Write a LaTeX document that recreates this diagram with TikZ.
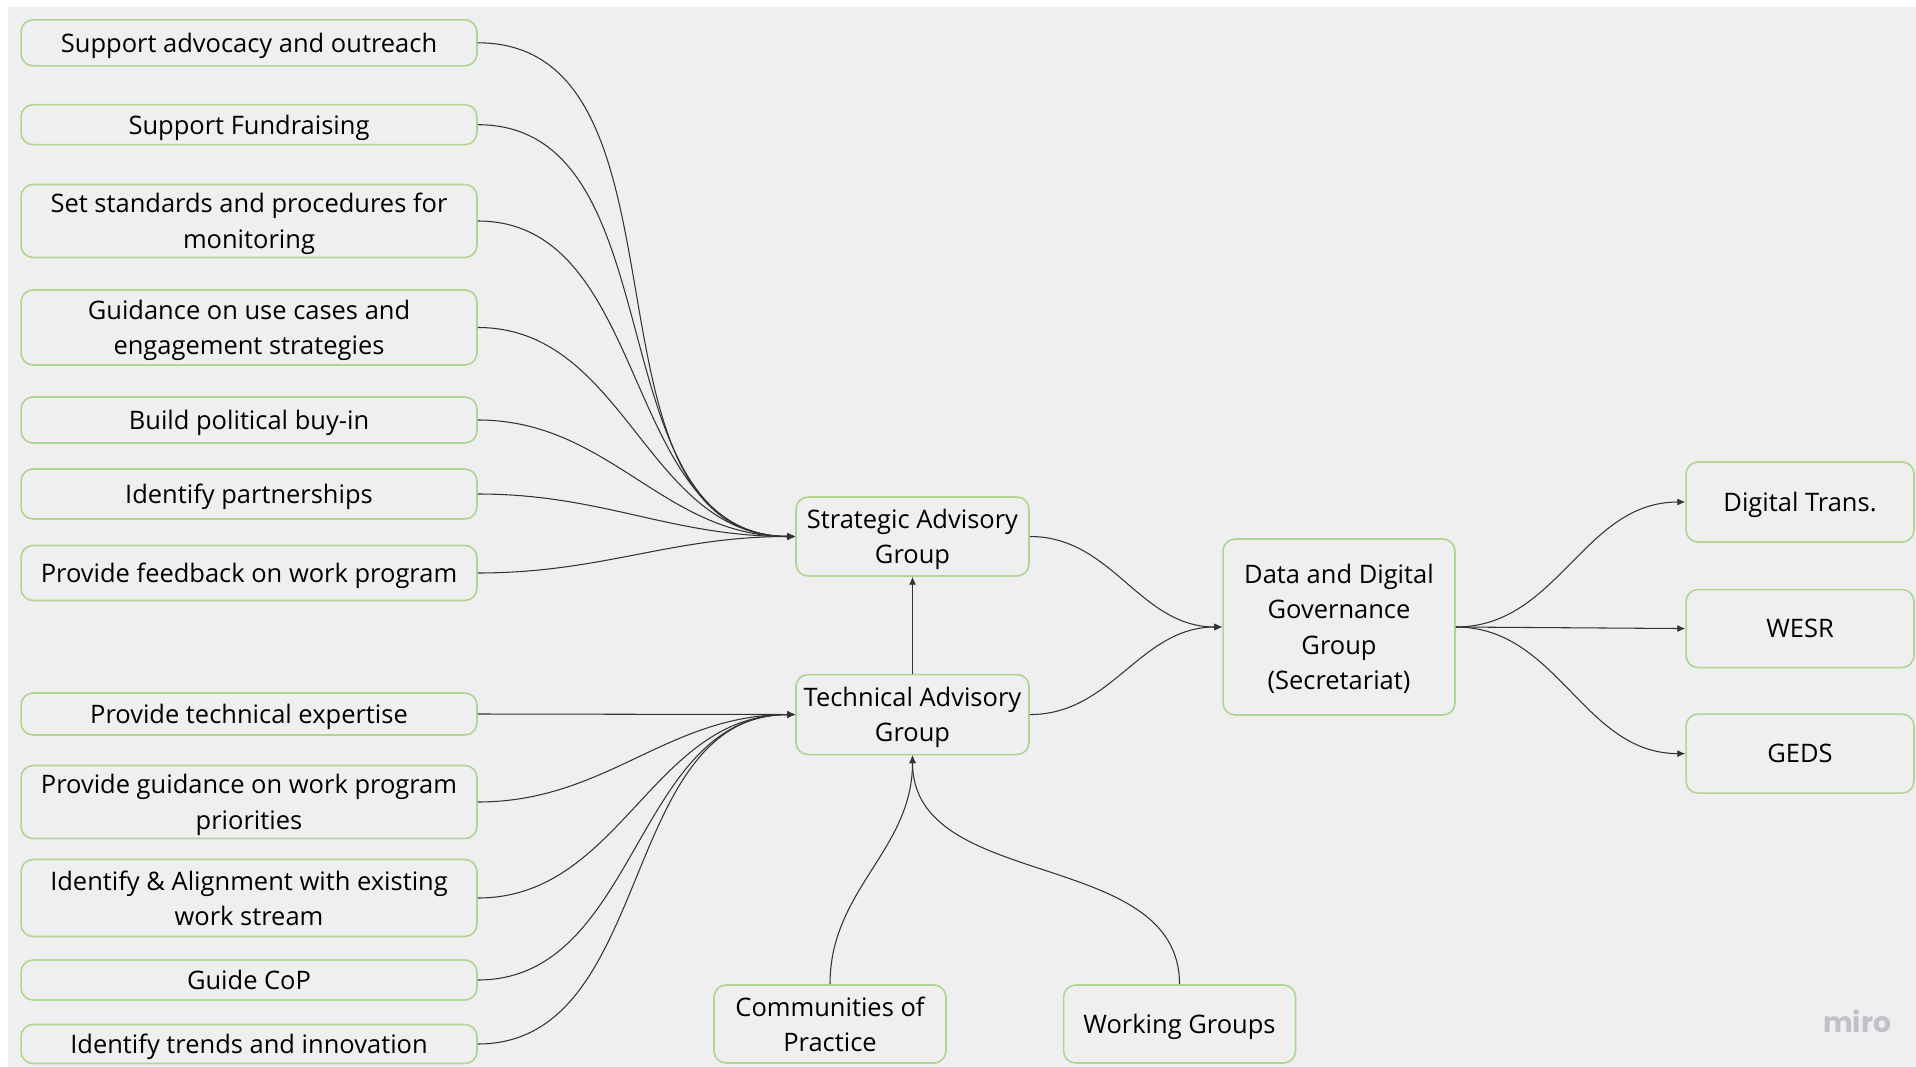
\documentclass[tikz,border=0pt]{standalone}
\usepackage{fontspec}
\setmainfont{Open Sans}
\newfontfamily\logofont{Poppins}
\usetikzlibrary{arrows.meta, positioning}
\usepackage{xcolor}
\definecolor{boardgrey}{RGB}{239,239,239}
\definecolor{boxgreen}{RGB}{176,212,146}
\definecolor{linkgrey}{RGB}{51,51,51}
\definecolor{logogrey}{RGB}{192,192,200}

\begin{document}
\begin{tikzpicture}[x=0.02cm, y=-0.02cm, >={Latex[length=4.5pt,width=4pt]},
  box/.style={rectangle, rounded corners=0.24cm, draw=boxgreen, line width=0.9pt, fill=boardgrey, minimum width=#1, align=center, inner sep=1pt, text depth=0pt, font=\fontsize{14.5}{20.2}\selectfont},
  box/.default=9.12cm,
  link/.style={->, draw=linkgrey, line width=0.6pt}]
  \useasboundingbox[fill=white] (0,0) rectangle (1916,1067);
  \fill[boardgrey] (8,7) rectangle (1916,1067);
  % strategic tasks
  \node[box, minimum height=0.92cm] (advocacy) at (249,42.8) {Support advocacy and outreach};
  \node[box, minimum height=0.80cm] (fundraising) at (249,124.7) {Support Fundraising};
  \node[box, minimum height=1.46cm] (standards) at (249,221) {Set standards and procedures for\\monitoring};
  \node[box, minimum height=1.50cm] (usecases) at (249,327.5) {Guidance on use cases and\\engagement strategies};
  \node[box, minimum height=0.92cm] (buyin) at (249,420) {Build political buy-in};
  \node[box, minimum height=1.00cm] (partners) at (249,494) {Identify partnerships};
  \node[box, minimum height=1.10cm] (feedback) at (249,573) {Provide feedback on work program};
  % technical tasks
  \node[box, minimum height=0.84cm] (expertise) at (249,714) {Provide technical expertise};
  \node[box, minimum height=1.46cm] (priorities) at (249,802) {Provide guidance on work program\\priorities};
  \node[box, minimum height=1.54cm] (alignment) at (249,898) {Identify \& Alignment with existing\\work stream};
  \node[box, minimum height=0.80cm] (guidecop) at (249,980) {Guide CoP};
  \node[box, minimum height=0.78cm] (trends) at (249,1044) {Identify trends and innovation};
  % groups
  \node[box=4.66cm, minimum height=1.58cm] (sag) at (912.5,536.5) {Strategic Advisory\\Group};
  \node[box=4.66cm, minimum height=1.60cm, below=1.94cm of sag] (tag) {Technical Advisory\\Group};
  \node[box=4.64cm, minimum height=3.52cm] (ddgg) at (1339,627) {Data and Digital\\Governance\\Group\\(Secretariat)};
  \node[box=4.56cm, minimum height=1.60cm] (digital) at (1800,502) {Digital Trans.};
  \node[box=4.56cm, minimum height=1.56cm, below=0.92cm of digital] (wesr) {WESR};
  \node[box=4.56cm, minimum height=1.58cm, below=0.9cm of wesr] (geds) {GEDS};
  \node[box=4.64cm, minimum height=1.56cm] (communities) at (830,1024) {Communities of\\Practice};
  \node[box=4.64cm, minimum height=1.56cm, right=2.32cm of communities] (working) {Working Groups};
  \node[font=\logofont\bfseries\fontsize{16}{16}\selectfont, text=logogrey] (logo) at (1857,1021) {miro};
  % links into the advisory groups
  \draw[link] (advocacy.east) to[out=0, in=180] (sag.west);
  \draw[link] (fundraising.east) to[out=0, in=180] (sag.west);
  \draw[link] (standards.east) to[out=0, in=180] (sag.west);
  \draw[link] (usecases.east) to[out=0, in=180] (sag.west);
  \draw[link] (buyin.east) to[out=0, in=180] (sag.west);
  \draw[link] (partners.east) to[out=0, in=180] (sag.west);
  \draw[link] (feedback.east) to[out=0, in=180] (sag.west);
  \draw[link] (expertise.east) -- (tag.west);
  \draw[link] (priorities.east) to[out=0, in=180] (tag.west);
  \draw[link] (alignment.east) to[out=0, in=180] (tag.west);
  \draw[link] (guidecop.east) to[out=0, in=180] (tag.west);
  \draw[link] (trends.east) to[out=0, in=180] (tag.west);
  \draw[link] (tag.north) -- (sag.south);
  \draw[link] (communities.north) to[out=90, in=-90] (tag.south);
  \draw[link] (working.north) to[out=90, in=-90] (tag.south);
  % links to the secretariat and beyond
  \draw[link] (sag.east) to[out=0, in=180] (ddgg.west);
  \draw[link] (tag.east) to[out=0, in=180] (ddgg.west);
  \draw[link] (ddgg.east) to[out=0, in=180] (digital.west);
  \draw[link] (ddgg.east) -- (wesr.west);
  \draw[link] (ddgg.east) to[out=0, in=180] (geds.west);
\end{tikzpicture}
\end{document}
